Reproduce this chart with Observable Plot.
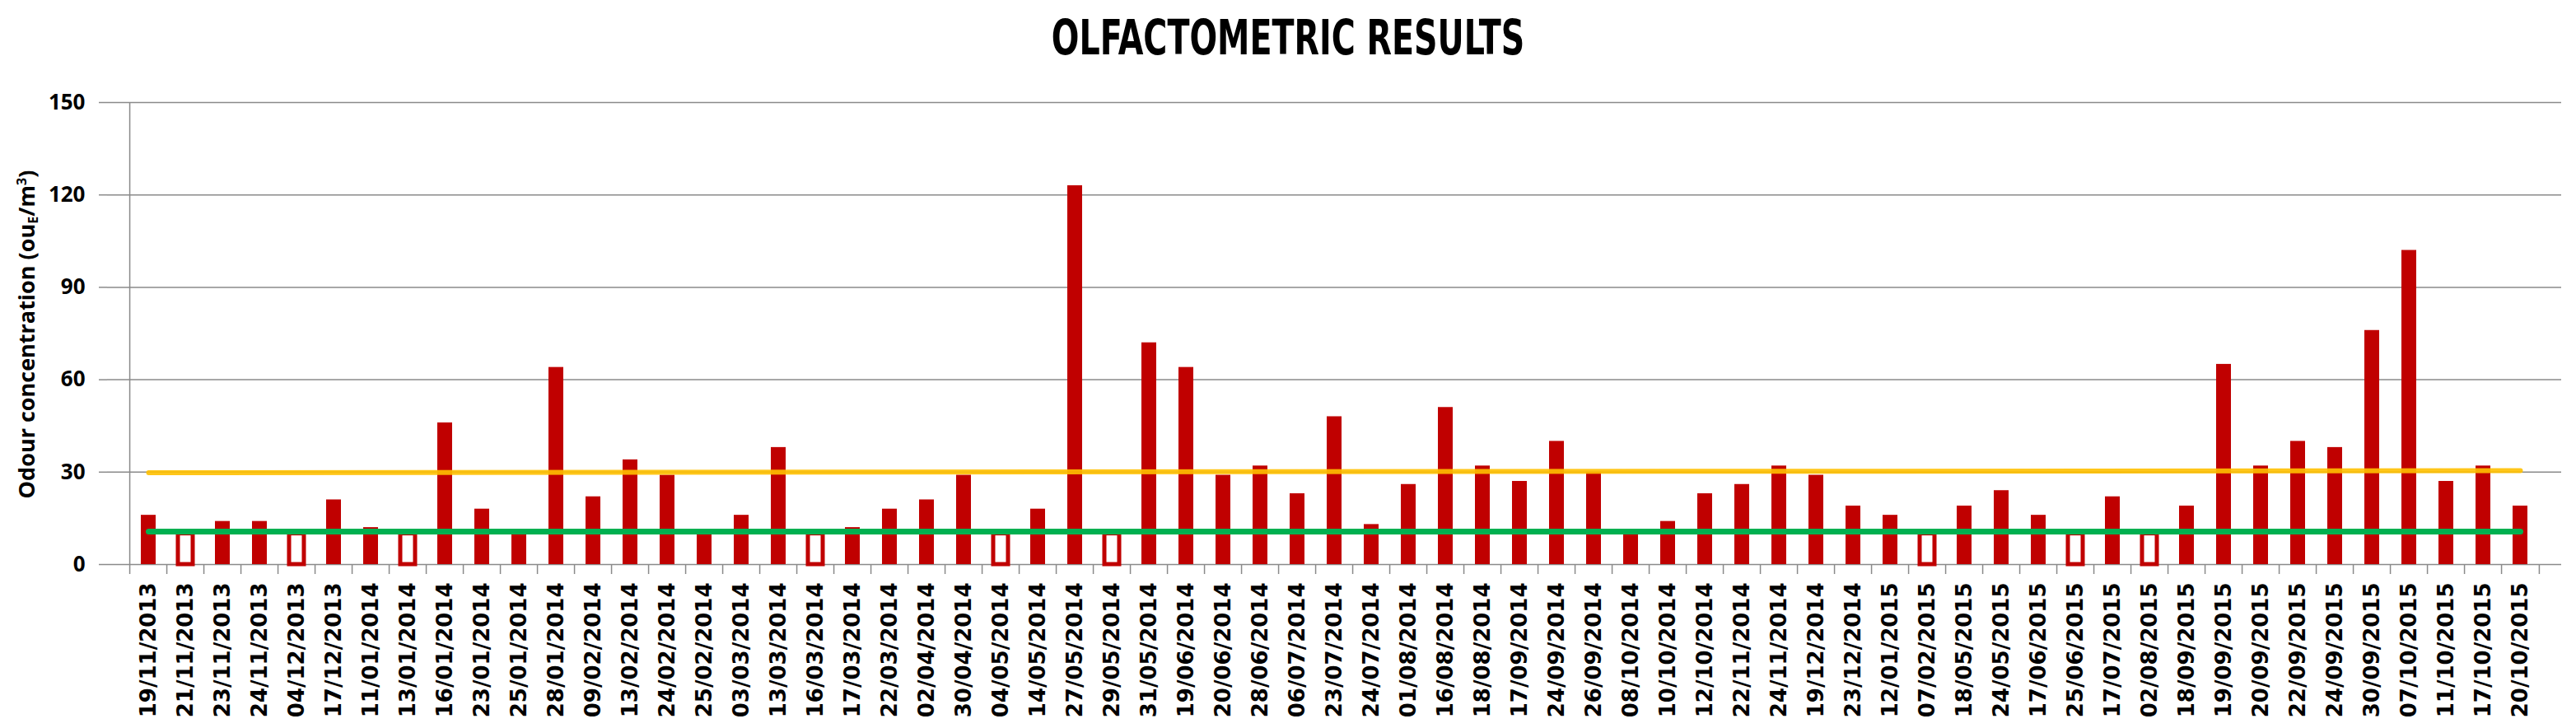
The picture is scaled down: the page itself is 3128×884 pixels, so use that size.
<!DOCTYPE html>
<html>
<head>
<meta charset="utf-8">
<script src="https://cdn.jsdelivr.net/npm/d3@7"></script>
<script src="https://cdn.jsdelivr.net/npm/@observablehq/plot@0.6"></script>
<style>
  html, body { margin: 0; padding: 0; background: #fff; }
  body { width: 3128px; height: 884px; position: relative; overflow: hidden; }
  #title { height: 90px; width: 3128px; display: flex; align-items: center; justify-content: center; }
  #title span { display: inline-block; font-family: "Liberation Sans Narrow", "DejaVu Sans Condensed", sans-serif; font-weight: bold; font-size: 44px; transform: scale(1, 1.35); color: #000; }
  #ylabel { position: absolute; left: 32px; top: 406px; transform: translate(-50%, -50%) rotate(-90deg); white-space: nowrap; font-family: "Open Sans", sans-serif; font-weight: bold; font-size: 27px; color: #000; }
  #ylabel sub { font-size: 60%; vertical-align: -0.25em; }
  #ylabel sup { font-size: 60%; vertical-align: 0.6em; }
  #chart svg { display: block; }
</style>
</head>
<body>
<div id="title"><span>OLFACTOMETRIC RESULTS</span></div>
<div id="chart"></div>
<div id="ylabel">Odour concentration (ou<sub>E</sub>/m<sup>3</sup>)</div>
<script>
// Sampling dates (categories)
const dates = [
  "19/11/2013","21/11/2013","23/11/2013","24/11/2013","04/12/2013","17/12/2013",
  "11/01/2014","13/01/2014","16/01/2014","23/01/2014","25/01/2014","28/01/2014",
  "09/02/2014","13/02/2014","24/02/2014","25/02/2014","03/03/2014","13/03/2014",
  "16/03/2014","17/03/2014","22/03/2014","02/04/2014","30/04/2014","04/05/2014",
  "14/05/2014","27/05/2014","29/05/2014","31/05/2014","19/06/2014","20/06/2014",
  "28/06/2014","06/07/2014","23/07/2014","24/07/2014","01/08/2014","16/08/2014",
  "18/08/2014","17/09/2014","24/09/2014","26/09/2014","08/10/2014","10/10/2014",
  "12/10/2014","22/11/2014","24/11/2014","19/12/2014","23/12/2014","12/01/2015",
  "07/02/2015","18/05/2015","24/05/2015","17/06/2015","25/06/2015","17/07/2015",
  "02/08/2015","18/09/2015","19/09/2015","20/09/2015","22/09/2015","24/09/2015",
  "30/09/2015","07/10/2015","11/10/2015","17/10/2015","20/10/2015"
];
// Odour concentration (ouE/m3) per date
const odour = [
  16, 10, 14, 14, 10, 21,
  12, 10, 46, 18, 11, 64,
  22, 34, 29, 11, 16, 38,
  10, 12, 18, 21, 29, 10,
  18, 123, 10, 72, 64, 29,
  32, 23, 48, 13, 26, 51,
  32, 27, 40, 30, 11, 14,
  23, 26, 32, 29, 19, 16,
  10, 19, 24, 16, 10, 22,
  10, 19, 65, 32, 40, 38,
  76, 102, 27, 32, 19
];
// Dates whose result is drawn as an outlined (below-limit) bar
const belowLimitDates = ["21/11/2013","04/12/2013","13/01/2014","16/03/2014","04/05/2014","29/05/2014","07/02/2015","25/06/2015","02/08/2015"];
// Reference lines (value at first and last date)
const upperLine = [29.8, 30.5];   // yellow
const lowerLine = [10.7, 10.7];   // green
const yTicks = [0, 30, 60, 90, 120, 150];
const yDomain = [0, 150];

const W = 3128, H = 794;
const mL = 130, mR = 18, mT = 34, mB = 199;
const half = (W - mL - mR) / dates.length / 2;
const grey = "#8a8a8a";

const data = dates.map((d, i) => ({date: d, value: odour[i], hollow: belowLimitDates.includes(d)}));
const lineEnds = [dates[0], dates[dates.length - 1]];
const upper = lineEnds.map((d, i) => ({date: d, value: upperLine[i]}));
const lower = lineEnds.map((d, i) => ({date: d, value: lowerLine[i]}));

const chart = Plot.plot({
  width: W, height: H,
  marginLeft: mL, marginRight: mR, marginTop: mT, marginBottom: mB,
  style: {background: "#fff", color: "#000", overflow: "visible"},
  x: {type: "band", domain: dates, padding: 0.607, label: null},
  y: {domain: yDomain, label: null},
  marks: [
    Plot.gridY(yTicks, {stroke: grey, strokeOpacity: 1, strokeWidth: 1.5}),
    Plot.ruleX([dates[0]], {dx: -half, y1: yDomain[0], y2: yDomain[1], stroke: grey, strokeWidth: 1.5}),
    Plot.axisY({ticks: yTicks, tickSize: 10, tickPadding: 17, stroke: grey, strokeWidth: 1.5, fontSize: 26, fontFamily: "Open Sans", fontWeight: "bold", label: null}),
    Plot.axisX({ticks: dates, tickSize: 12, tickFormat: () => "", dx: -half, stroke: grey, strokeWidth: 1.5, label: null}),
    Plot.axisX({ticks: [dates[dates.length - 1]], tickSize: 12, tickFormat: () => "", dx: half, stroke: grey, strokeWidth: 1.5, label: null}),
    Plot.axisX({ticks: dates, tickSize: 0, tickPadding: 22, tickRotate: -90, fontSize: 26, fontFamily: "DejaVu Sans", fontWeight: "bold", label: null}),
    Plot.barY(data.filter(d => !d.hollow), {x: "date", y: "value", fill: "#C00000"}),
    Plot.barY(data.filter(d => d.hollow), {x: "date", y: "value", fill: "#fff", stroke: "#C00000", strokeWidth: 5}),
    Plot.lineY(upper, {x: "date", y: "value", stroke: "#FFC000", strokeWidth: 6, strokeOpacity: 0.9}),
    Plot.lineY(lower, {x: "date", y: "value", stroke: "#00B050", strokeWidth: 7, strokeLinecap: "round"})
  ]
});
document.getElementById("chart").appendChild(chart);
</script>
</body>
</html>
